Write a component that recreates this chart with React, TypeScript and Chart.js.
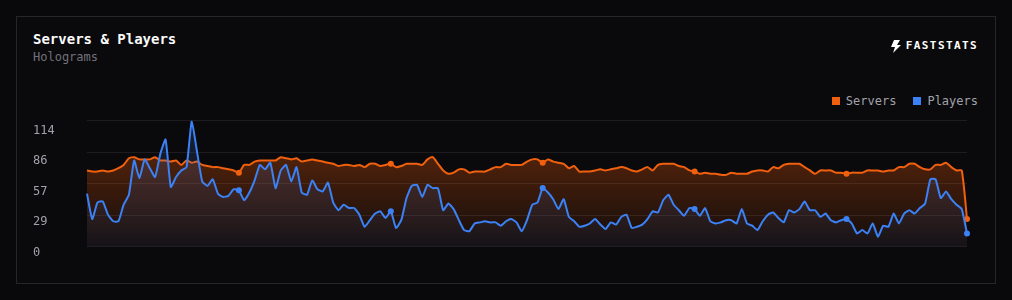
import React, { useEffect, useRef } from "react";
import { Chart, registerables } from "chart.js";

Chart.register(...registerables);

// Hourly samples (169 points, one week)
const servers: number[] = [
  69, 68, 68, 69, 68, 69, 71, 74, 80, 81, 79, 79, 79, 81, 78, 78, 77, 78, 74, 78,
  76, 77, 74, 73, 72, 72, 71, 70, 69, 67, 74, 74, 77, 78,
  78, 78, 78, 81, 80, 79, 80, 77, 78, 79, 78, 77, 76, 75, 73, 74, 74, 73, 74, 72,
  75, 75, 73, 74, 75, 72, 73, 75, 75, 75, 74, 79, 81, 75,
  69, 66, 67, 70, 70, 67, 68, 68, 68, 70, 72, 72, 75, 74, 74, 74, 77, 79, 79, 76,
  79, 77, 76, 75, 71, 73, 68, 68, 68, 69, 70, 69, 70,
  71, 72, 71, 69, 68, 70, 72, 69, 74, 75, 75, 75, 73, 72, 69, 68, 66, 67, 66, 66,
  65, 65, 67, 66, 66, 66, 68, 69, 69, 68, 72, 71, 74, 75,
  75, 75, 72, 69, 66, 69, 69, 69, 67, 67, 66, 67, 67, 67, 69, 69, 69, 68, 69, 69,
  72, 72, 75, 75, 72, 70, 70, 74, 74, 76, 72, 69, 69, 25,
];

const players: number[] = [
  48, 25, 40, 41, 29, 23, 23, 38, 47, 78, 62, 79, 71, 63, 84, 97, 54, 63, 69, 72,
  114, 86, 59, 55, 61, 48, 45, 46, 52, 51, 42, 49, 60, 74,
  70, 76, 53, 69, 74, 59, 72, 49, 47, 60, 52, 50, 58, 40, 33, 38, 35, 35, 29, 18,
  24, 30, 32, 26, 32, 17, 24, 44, 55, 56, 45, 56, 53, 53,
  33, 39, 34, 24, 15, 14, 21, 22, 23, 22, 22, 19, 23, 25, 22, 14, 24, 38, 40, 53,
  49, 43, 34, 43, 27, 23, 18, 19, 21, 25, 20, 16, 22,
  20, 27, 29, 17, 18, 20, 25, 32, 31, 42, 47, 38, 33, 28, 35, 34, 28, 35, 23, 21,
  22, 24, 24, 21, 34, 21, 19, 15, 23, 29, 31, 26, 22, 33,
  31, 34, 41, 33, 33, 27, 30, 24, 22, 24, 25, 21, 12, 15, 12, 21, 9, 19, 18, 30,
  21, 30, 33, 30, 35, 39, 61, 61, 44, 50, 43, 38, 34, 12,
];

const categories: string[] = servers.map((_, i) => {
  const day = Math.floor(i / 24) + 1;
  const hour = String(i % 24).padStart(2, "0");
  return `Day ${day} ${hour}:00`;
});

const yTickValues: number[] = [0, 28.5, 57, 85.5, 114];
const yTickLabels: string[] = ["0", "29", "57", "86", "114"];
const seriesNames: string[] = ["Servers", "Players"];

const ORANGE = "#f0600f";
const BLUE = "#3b82f6";
const MONO = '"DejaVu Sans Mono", "Liberation Mono", monospace';

const markerStep = 29;
const radii = servers.map((_, i) =>
  (i > 0 && i % markerStep === 0) || i === servers.length - 1 ? 3 : 0
);

function gradient(rgb: string, a0: number, a1: number) {
  return (ctx: any) => {
    const chart = ctx.chart;
    const area = chart.chartArea;
    if (!area) return `rgba(${rgb},${a0})`;
    const g = chart.ctx.createLinearGradient(0, area.top, 0, area.bottom);
    g.addColorStop(0, `rgba(${rgb},${a0})`);
    g.addColorStop(1, `rgba(${rgb},${a1})`);
    return g;
  };
}

export default function App() {
  const canvasRef = useRef<HTMLCanvasElement | null>(null);

  useEffect(() => {
    document.body.style.background = "#09090b";
    const el = canvasRef.current;
    if (!el) return;
    const chart = new Chart(el, {
      type: "line",
      data: {
        labels: categories,
        datasets: [
          {
            label: seriesNames[0],
            data: servers,
            yAxisID: "y",
            borderColor: ORANGE,
            borderWidth: 2,
            backgroundColor: gradient("234,88,12", 0.42, 0.04),
            fill: "origin",
            tension: 0.2,
            pointRadius: radii,
            pointHoverRadius: radii,
            pointBorderWidth: 0,
            pointBackgroundColor: ORANGE,
            order: 2,
          },
          {
            label: seriesNames[1],
            data: players,
            yAxisID: "y",
            borderColor: BLUE,
            borderWidth: 2,
            backgroundColor: gradient("70,110,200", 0.22, 0.06),
            fill: "origin",
            tension: 0.15,
            pointRadius: radii,
            pointHoverRadius: radii,
            pointBorderWidth: 0,
            pointBackgroundColor: BLUE,
            order: 1,
          },
        ],
      },
      options: {
        animation: false,
        responsive: false,
        maintainAspectRatio: false,
        layout: { padding: { left: 9, right: 13, top: 10.7, bottom: 13.3 } },
        plugins: {
          legend: { display: false },
          tooltip: { enabled: false },
        },
        scales: {
          x: { display: false },
          yLabels: {
            position: "left",
            min: 5.6,
            max: 123.37,
            afterBuildTicks: (s: any) => {
              s.ticks = yTickValues.map((v) => ({ value: v }));
            },
            afterFit: (s: any) => {
              s.width = 54;
            },
            border: { display: false },
            grid: { display: false },
            ticks: {
              crossAlign: "far",
              color: "#a1a1aa",
              font: { family: MONO, size: 12 },
              callback: (_v: any, i: number) => yTickLabels[i],
            },
          },
          y: {
            position: "left",
            min: 0,
            max: 114,
            afterBuildTicks: (s: any) => {
              s.ticks = yTickValues.map((v) => ({ value: v }));
            },
            afterFit: (s: any) => {
              s.width = 0;
            },
            border: { display: false },
            grid: { color: "rgba(255,255,255,0.08)", drawTicks: false },
            ticks: { display: false },
          },
        },
      },
    });
    return () => chart.destroy();
  }, []);

  return (
    <div style={{ position: "relative", width: 996, height: 284 }}>
      <div
        style={{
          position: "absolute",
          left: 8,
          top: 8,
          width: 980,
          height: 268,
          boxSizing: "border-box",
          border: "1px solid #262629",
          background: "#0a0a0c",
          fontFamily: MONO,
        }}
      >
        <div
          style={{
            position: "absolute",
            left: 16,
            top: 13,
            fontSize: 14,
            lineHeight: "18px",
            fontWeight: 700,
            color: "#fafafa",
            whiteSpace: "nowrap",
          }}
        >
          Servers &amp; Players
        </div>
        <div
          style={{
            position: "absolute",
            left: 16,
            top: 32,
            fontSize: 12,
            lineHeight: "16px",
            color: "#71717a",
            whiteSpace: "nowrap",
          }}
        >
          Holograms
        </div>
        <div
          style={{
            position: "absolute",
            right: 17,
            top: 22,
            height: 14,
            display: "flex",
            alignItems: "center",
            gap: 5,
            color: "#ffffff",
          }}
        >
          <svg width="11" height="13" viewBox="0 0 11 13">
            <polygon points="4,0 10,0 7,5 11,5 3,13 5,7 1,7" fill="#ffffff" />
          </svg>
          <span
            style={{
              fontSize: 11,
              lineHeight: "14px",
              fontWeight: 700,
              letterSpacing: 1.4,
              whiteSpace: "nowrap",
            }}
          >
            FASTSTATS
          </span>
        </div>
        <div
          style={{
            position: "absolute",
            right: 17,
            top: 76,
            height: 16,
            display: "flex",
            alignItems: "center",
            fontSize: 12,
            lineHeight: "16px",
            color: "#a1a1aa",
            whiteSpace: "nowrap",
          }}
        >
          <span style={{ width: 8, height: 8, background: ORANGE, display: "inline-block", marginRight: 6 }} />
          <span style={{ marginRight: 17 }}>{seriesNames[0]}</span>
          <span style={{ width: 8, height: 8, background: BLUE, display: "inline-block", marginRight: 6 }} />
          <span>{seriesNames[1]}</span>
        </div>
        <div style={{ position: "absolute", left: 7, top: 93, width: 956, height: 150 }}>
          <canvas ref={canvasRef} width={956} height={150} style={{ width: 956, height: 150, display: "block" }} />
        </div>
      </div>
    </div>
  );
}
